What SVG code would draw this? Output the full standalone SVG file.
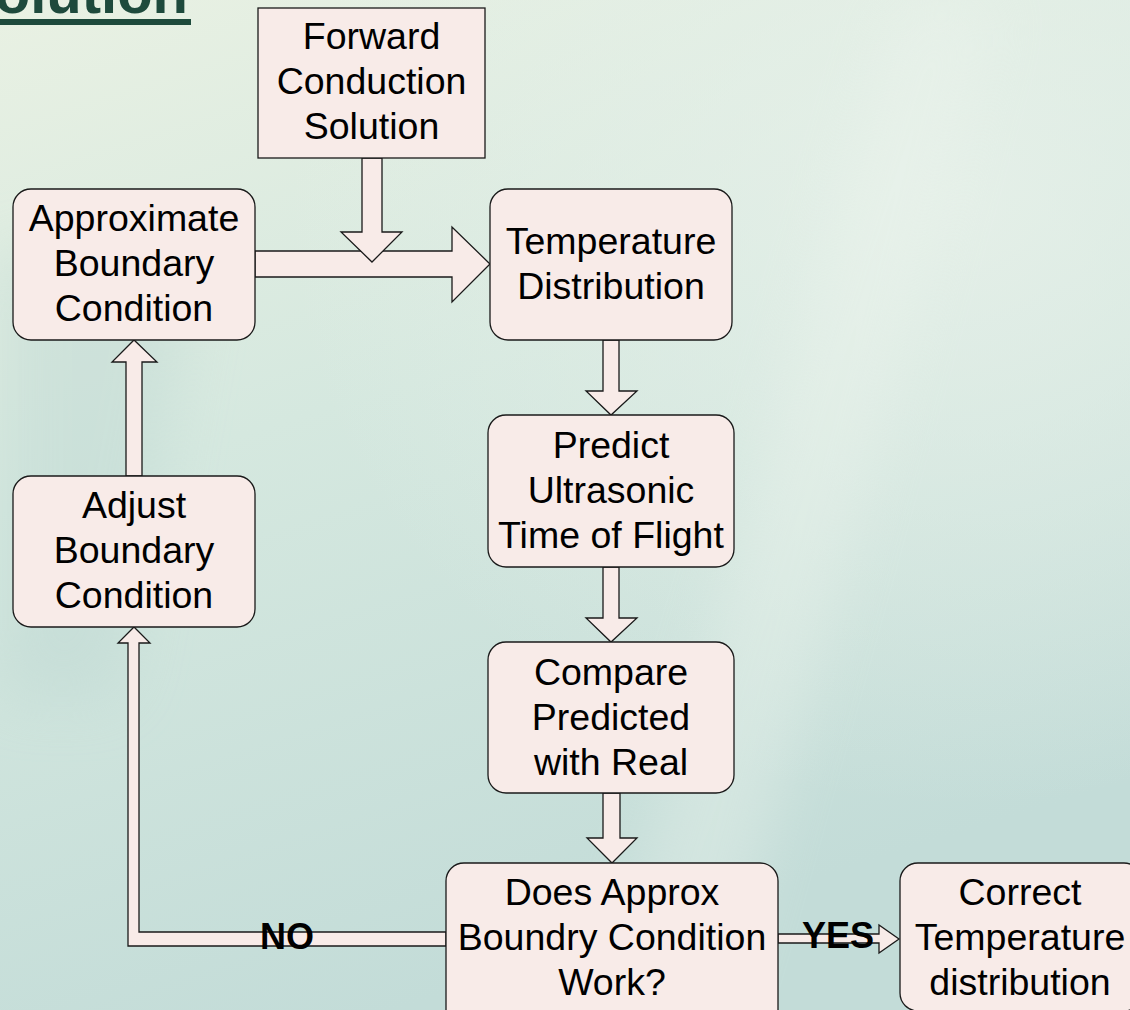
<svg xmlns="http://www.w3.org/2000/svg" width="1130" height="1010" viewBox="0 0 1130 1010">
  <defs>
    <linearGradient id="bg" x1="0" y1="0" x2="0.35" y2="1">
      <stop offset="0" stop-color="#e9f1e3"/>
      <stop offset="0.45" stop-color="#d5e8df"/>
      <stop offset="1" stop-color="#c3dcd8"/>
    </linearGradient>
    <radialGradient id="glow" cx="0.85" cy="0.2" r="0.6">
      <stop offset="0" stop-color="#e8f1ea" stop-opacity="0.8"/>
      <stop offset="1" stop-color="#e8f1ea" stop-opacity="0"/>
    </radialGradient>
    <filter id="blur" x="-20%" y="-20%" width="140%" height="140%">
      <feGaussianBlur stdDeviation="30"/>
    </filter>
    <style>
      .box { fill: #f8ebe8; stroke: #1a1a1a; stroke-width: 1.3; }
      .arrow { fill: #f8ebe8; stroke: #1a1a1a; stroke-width: 1.3; stroke-linejoin: miter; }
      .t { font-family: "Liberation Sans", Arial, sans-serif; font-size: 37.5px; fill: #000; text-anchor: middle; }
      .lbl { font-family: "Liberation Sans", Arial, sans-serif; font-size: 36px; font-weight: bold; fill: #000; text-anchor: middle; }
      .title { font-family: "Liberation Sans", Arial, sans-serif; font-size: 58px; font-weight: bold; fill: #1e4a3c; text-anchor: end; }
    </style>
  </defs>

  <rect x="0" y="0" width="1130" height="1010" fill="url(#bg)"/>
  <rect x="0" y="0" width="1130" height="1010" fill="url(#glow)"/>
  <g filter="url(#blur)" opacity="0.35">
    <path d="M 600 1010 L 900 0 L 1000 0 L 720 1010 Z" fill="#eef5ee"/>
    <path d="M 0 250 L 200 250 L 120 700 L 0 700 Z" fill="#b7d3cf"/>
  </g>

  <g id="title">
    <text class="title" x="188" y="13">olution</text>
    <rect x="0" y="19" width="191" height="6" fill="#1e4a3c"/>
  </g>

  <g id="connectors">
    <polygon class="arrow" points="255,251 452,251 452,227 490,264 452,302 452,277 255,277"/>
    <polygon class="arrow" points="362,158 382,158 382,232 402,232 372,262 341,232 362,232"/>
    <polygon class="arrow" points="603,340 619,340 619,391 637,391 611,415 586,391 603,391"/>
    <polygon class="arrow" points="603,567 619,567 619,618 637,618 611,642 586,618 603,618"/>
    <polygon class="arrow" points="603,793 620,793 620,838 637,838 612,863 587,838 603,838"/>
    <polygon class="arrow" points="126,476 142,476 142,362 157,362 134,340 112,362 126,362"/>
    <polygon class="arrow" points="446,932 139,932 139,643 150,643 134,627 118,643 128,643 128,946 446,946"/>
    <polygon class="arrow" points="778,934 879,934 879,925 899,939 879,953 879,943 778,943"/>
    <text class="lbl" x="287" y="949">NO</text>
    <text class="lbl" x="838" y="948">YES</text>
  </g>

  <g id="forward">
    <rect class="box" x="258" y="8" width="227" height="150"/>
    <text class="t" x="371.5" y="49">Forward</text>
    <text class="t" x="371.5" y="94">Conduction</text>
    <text class="t" x="371.5" y="139">Solution</text>
  </g>

  <g id="approx">
    <rect class="box" x="13" y="189" width="242" height="151" rx="18"/>
    <text class="t" x="134" y="231">Approximate</text>
    <text class="t" x="134" y="276">Boundary</text>
    <text class="t" x="134" y="321">Condition</text>
  </g>

  <g id="temperature">
    <rect class="box" x="490" y="189" width="242" height="151" rx="18"/>
    <text class="t" x="611" y="254">Temperature</text>
    <text class="t" x="611" y="299">Distribution</text>
  </g>

  <g id="predict">
    <rect class="box" x="488" y="415" width="246" height="152" rx="18"/>
    <text class="t" x="611" y="458">Predict</text>
    <text class="t" x="611" y="503">Ultrasonic</text>
    <text class="t" x="611" y="548">Time of Flight</text>
  </g>

  <g id="compare">
    <rect class="box" x="488" y="642" width="246" height="151" rx="18"/>
    <text class="t" x="611" y="685">Compare</text>
    <text class="t" x="611" y="730">Predicted</text>
    <text class="t" x="611" y="775">with Real</text>
  </g>

  <g id="adjust">
    <rect class="box" x="13" y="476" width="242" height="151" rx="18"/>
    <text class="t" x="134" y="518">Adjust</text>
    <text class="t" x="134" y="563">Boundary</text>
    <text class="t" x="134" y="608">Condition</text>
  </g>

  <g id="decision">
    <rect class="box" x="446" y="863" width="332" height="165" rx="18"/>
    <text class="t" x="612" y="905">Does Approx</text>
    <text class="t" x="612" y="950">Boundry Condition</text>
    <text class="t" x="612" y="995">Work?</text>
  </g>

  <g id="correct">
    <rect class="box" x="900" y="863" width="242" height="148" rx="18"/>
    <text class="t" x="1020" y="905">Correct</text>
    <text class="t" x="1020" y="950">Temperature</text>
    <text class="t" x="1020" y="995">distribution</text>
  </g>
</svg>
